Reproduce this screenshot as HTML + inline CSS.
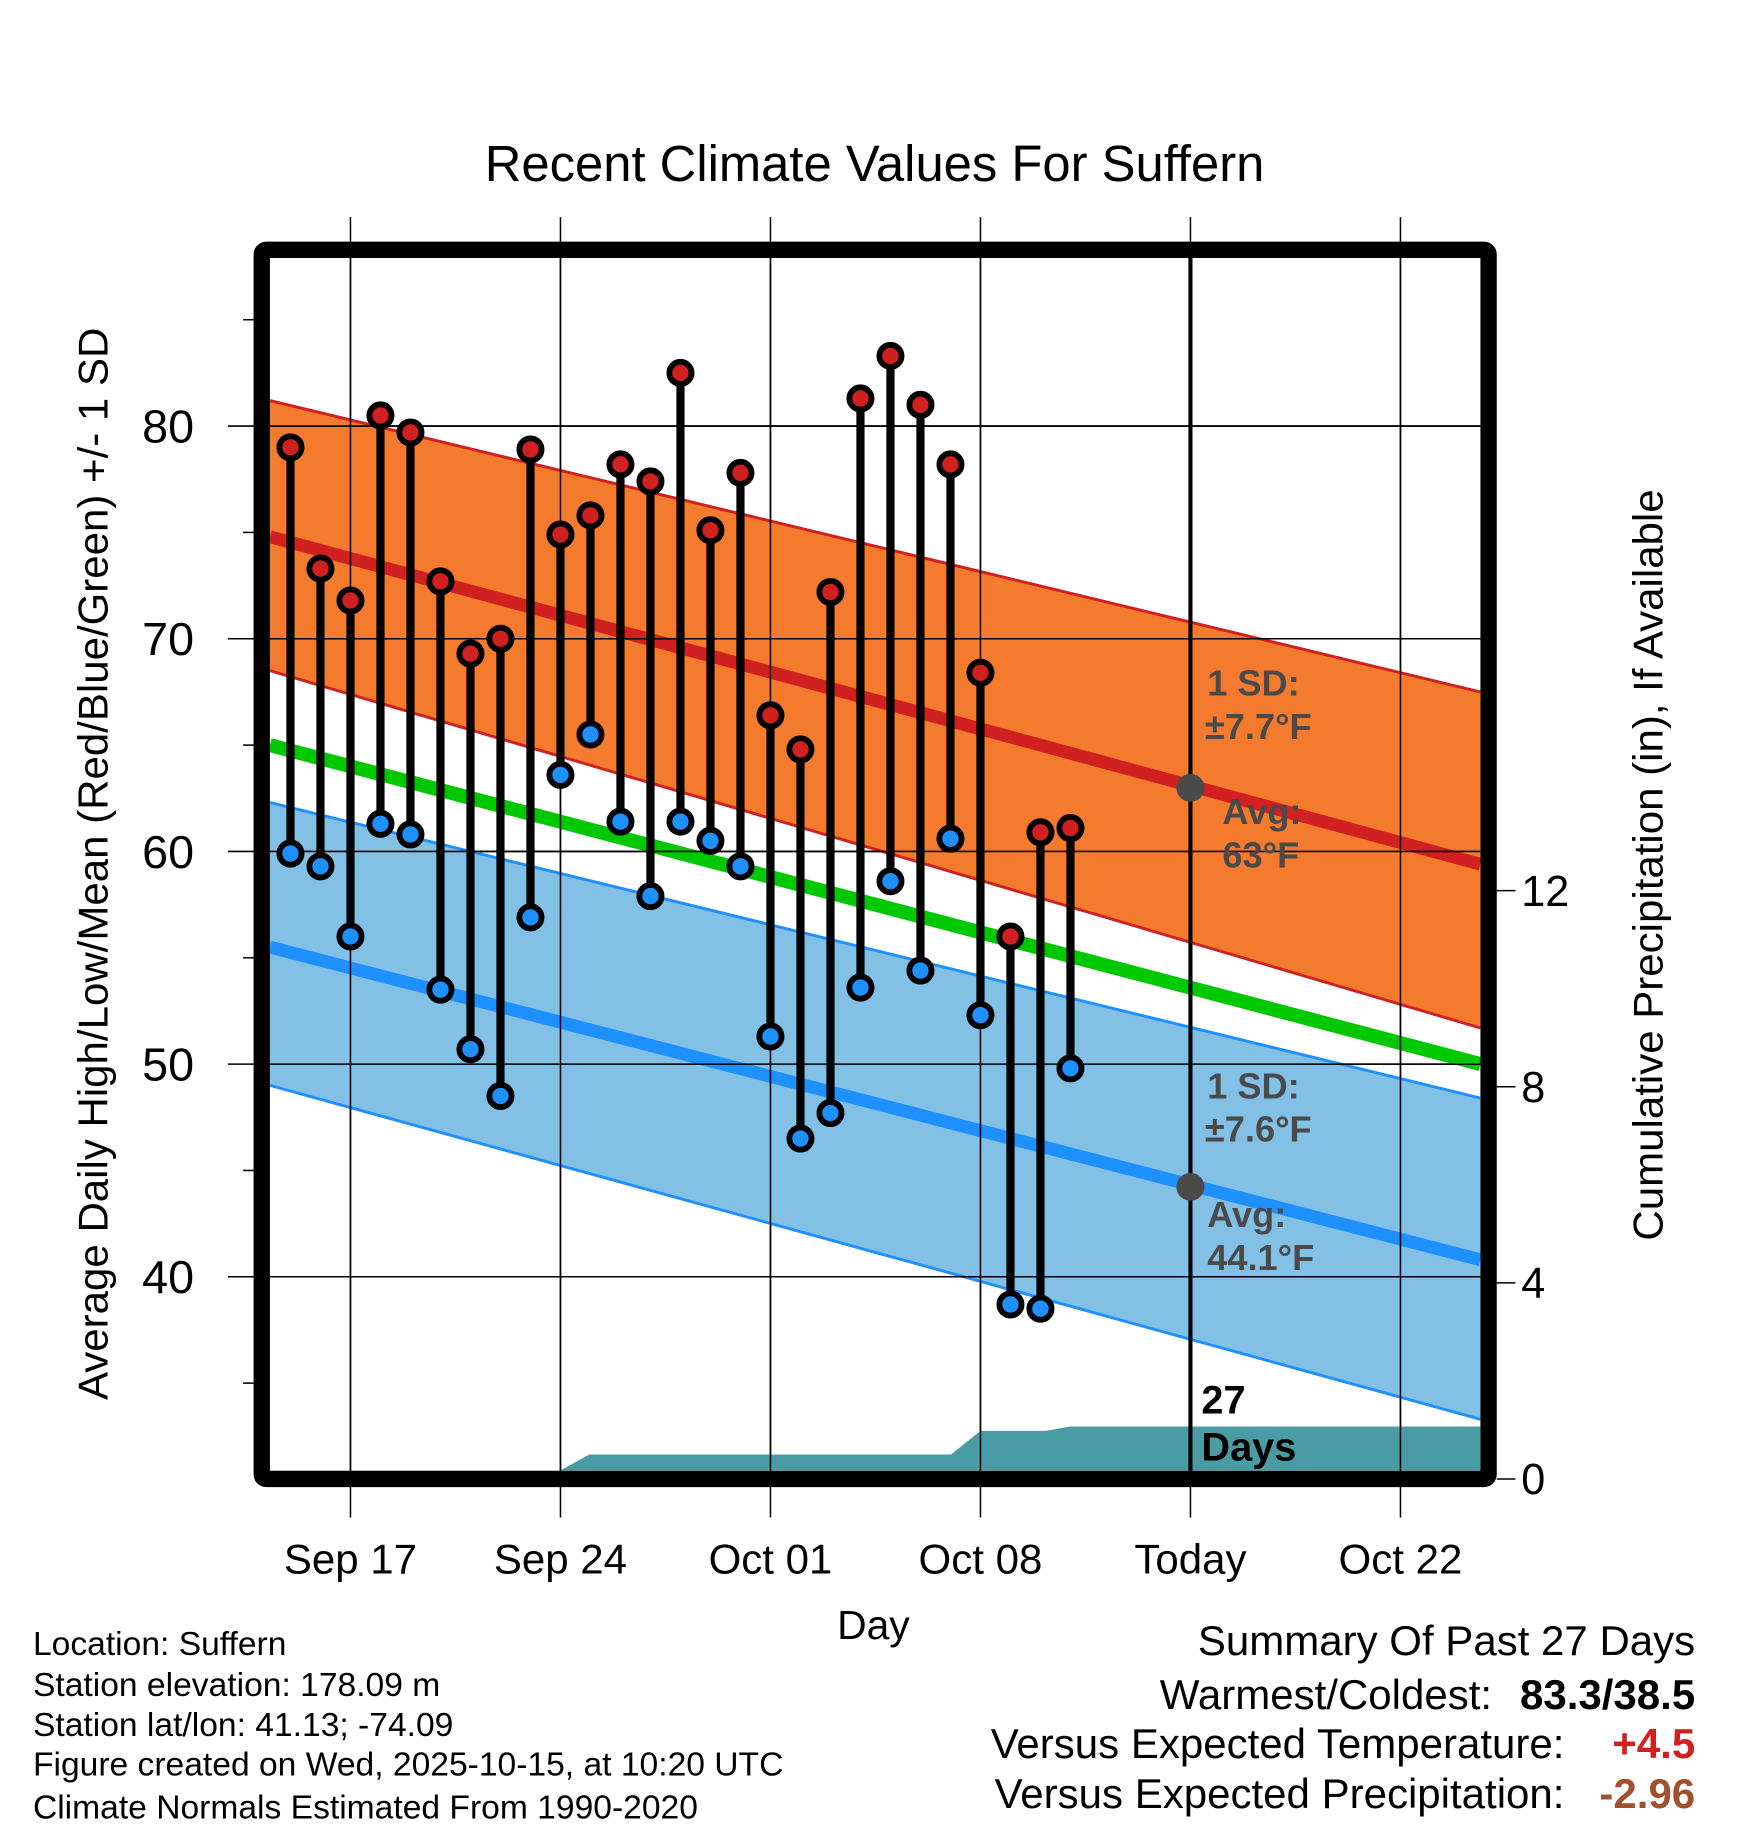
<!DOCTYPE html>
<html><head><meta charset="utf-8"><style>
html,body{margin:0;padding:0;background:#fff}
svg{display:block;font-family:"Liberation Sans",Arial,sans-serif}
</style></head><body>
<svg id="chart" width="1748" height="1828" viewBox="0 0 1497 1566" xmlns="http://www.w3.org/2000/svg">
<rect width="1497" height="1566" fill="#fff"/>
<g id="plot"></g>
<text x="749" y="155" font-size="43.5" text-anchor="middle">Recent Climate Values For Suffern</text>
<text transform="translate(92,740) rotate(-90)" font-size="36" text-anchor="middle">Average Daily High/Low/Mean (Red/Blue/Green) +/- 1 SD</text>
<text transform="translate(1424,741) rotate(-90)" font-size="36" text-anchor="middle">Cumulative Precipitation (in), If Available</text>
<text x="748" y="1404" font-size="35" text-anchor="middle">Day</text>
<g font-size="28.8">
<text x="28" y="1418">Location: Suffern</text>
<text x="28" y="1453">Station elevation: 178.09 m</text>
<text x="28" y="1487">Station lat/lon: 41.13; -74.09</text>
<text x="28" y="1521">Figure created on Wed, 2025-10-15, at 10:20 UTC</text>
<text x="28" y="1558">Climate Normals Estimated From 1990-2020</text>
</g>
<g font-size="36">
<text x="1452" y="1418" text-anchor="end">Summary Of Past 27 Days</text>
<text x="1278" y="1464" text-anchor="end">Warmest/Coldest:</text>
<text x="1452" y="1464" text-anchor="end" font-weight="bold">83.3/38.5</text>
<text x="1340" y="1506" text-anchor="end">Versus Expected Temperature:</text>
<text x="1452" y="1506" text-anchor="end" font-weight="bold" fill="#d02020">+4.5</text>
<text x="1340" y="1549" text-anchor="end">Versus Expected Precipitation:</text>
<text x="1452" y="1549" text-anchor="end" font-weight="bold" fill="#a0522d">-2.96</text>
</g>
</svg>
<script>
const highs=[79.0,73.3,71.8,80.5,79.7,72.7,69.3,70.0,78.9,74.9,75.8,78.2,77.4,82.5,75.1,77.8,66.4,64.8,72.2,81.3,83.3,81.0,78.2,68.4,56.0,60.9,61.1];
const lows=[59.9,59.3,56.0,61.3,60.8,53.5,50.7,48.5,56.9,63.6,65.5,61.4,57.9,61.4,60.5,59.3,51.3,46.5,47.7,53.6,58.6,54.4,60.6,52.3,38.7,38.5,49.8];
const dayOffsets=[-2,-1,0,1,2,3,4,5,6,7,8,9,10,11,12,13,14,15,16,17,18,19,20,21,22,23,24];
const xTickLabels=["Sep 17","Sep 24","Oct 01","Oct 08","Today","Oct 22"];
const xTickDays=[0,7,14,21,28,35];
const yTicks=[40,50,60,70,80];
const y2Ticks=[0,4,8,12];
const precipDays=[-2.9,6.49,7.96,20.02,21.0,23.18,23.98];
const precipVals=[0,0,0.5,0.5,0.98,0.98,1.07];
const highUpper=[81.2,67.5], highAvg=[74.8,59.4], highLower=[68.5,51.7];
const meanAvg=[65.0,50.0];
const lowUpper=[62.3,48.4], lowAvg=[55.5,40.8], lowLower=[49.0,33.3];
const dayStart=-2.9, dayEnd=37.4;

const X0=231,X1=1268,Y0=221,Y1=1260;
const xS=d=>300+d*25.7;
const yS=t=>365+(80-t)*18.22;
const y2S=p=>1267-p*42;
const ns="http://www.w3.org/2000/svg";
const plot=document.getElementById('plot');
function mk(tag,attrs,parent){const e=document.createElementNS(ns,tag);for(const k in attrs)e.setAttribute(k,attrs[k]);(parent||plot).appendChild(e);return e;}
const lin=(a,d)=>a[0]+(a[1]-a[0])*(d-dayStart)/(dayEnd-dayStart);

for(let i=0;i<xTickDays.length;i++){const x=xS(xTickDays[i]);
 const g=mk('line',{x1:x,x2:x,y1:186,y2:1300,stroke:'#000','stroke-width':1.3});
 
 
 const t=mk('text',{x:x,y:1348,'font-size':36,'text-anchor':'middle'});t.textContent=xTickLabels[i];
 
 
}
for(const v of yTicks){const y=yS(v);
 const g=mk('line',{x1:195,x2:X1,y1:y,y2:y,stroke:'#000','stroke-width':1.3});
 
 
 const t=mk('text',{x:166,y:y+14,'font-size':40,'text-anchor':'end'});t.textContent=v;
 
 
}
for(let v=35;v<=85;v+=10){const y=yS(v);mk('line',{x1:208,x2:217,y1:y,y2:y,stroke:'#000','stroke-width':1.3});}
for(const p of y2Ticks){const y=y2S(p);
 mk('line',{x1:1282,x2:1298,y1:y,y2:y,stroke:'#000','stroke-width':1.3});
 const t=mk('text',{x:1303,y:y+13,'font-size':37});t.textContent=p;
 
 
}
const defs=mk('defs',{});const cp=mk('clipPath',{id:'pc'},defs);mk('rect',{x:X0,y:Y0,width:X1-X0,height:Y1-Y0},cp);
const clip=mk('g',{'clip-path':'url(#pc)'});
function band(up,lo,fill,stroke,name){
 const a=[[X0,yS(lin(up,X0d))],[X1,yS(lin(up,X1d))],[X1,yS(lin(lo,X1d))],[X0,yS(lin(lo,X0d))]];
 const p=mk('polygon',{points:a.map(q=>q.join(',')).join(' '),fill:fill},clip);
 
 
 mk('line',{x1:a[0][0],y1:a[0][1],x2:a[1][0],y2:a[1][1],stroke:stroke,'stroke-width':2.5},clip);
 mk('line',{x1:a[3][0],y1:a[3][1],x2:a[2][0],y2:a[2][1],stroke:stroke,'stroke-width':2.5},clip);
}
const X0d=dayStart, X1d=dayEnd;
band(highUpper,highLower,'#f47a2e','#d02020','high-sd-band');
band(lowUpper,lowLower,'#82c0e6','#1e90ff','low-sd-band');
function nl(a,c,w,name){const l=mk('line',{x1:X0,y1:yS(a[0]),x2:X1,y2:yS(a[1]),stroke:c,'stroke-width':w},clip);
 
 }
nl(highAvg,'#d02020',11,'normal-high-line');
nl(meanAvg,'#00c800',12,'normal-mean-line');
nl(lowAvg,'#1e90ff',11,'normal-low-line');
let pts=precipDays.map((d,i)=>[xS(d),y2S(precipVals[i])]);
pts=pts.concat([[X1,y2S(precipVals[precipVals.length-1])],[X1,Y1],[X0,Y1]]);
const pa=mk('polygon',{points:pts.map(q=>q.join(',')).join(' '),fill:'#4a9ca4'},clip);


for(const d of xTickDays){const x=xS(d);mk('line',{x1:x,x2:x,y1:Y0,y2:Y1,stroke:'#000','stroke-width':1.3},clip);}
for(const v of yTicks){const y=yS(v);mk('line',{x1:X0,x2:X1,y1:y,y2:y,stroke:'#000','stroke-width':1.3},clip);}
const tx=xS(28);
const tl=mk('line',{x1:tx,x2:tx,y1:Y0,y2:Y1,stroke:'#000','stroke-width':3.5},clip);


mk('circle',{cx:tx,cy:yS(lin(highAvg,28)),r:12,fill:'#4a4a4a'});
mk('circle',{cx:tx,cy:yS(lin(lowAvg,28)),r:12,fill:'#4a4a4a'});
function lab(x,y,s,name){const t=mk('text',{x:x,y:y,'font-size':31,'font-weight':'bold',fill:'#4a4a4a'});t.textContent=s;
 
 }
lab(1034,596,'1 SD:','high-sd-label');lab(1032,633,'±7.7°F','high-sd-value');
lab(1047,706,'Avg:','high-avg-label');lab(1047,743,'63°F','high-avg-value');
lab(1034,941,'1 SD:','low-sd-label');lab(1032,978,'±7.6°F','low-sd-value');
lab(1034,1051,'Avg:','low-avg-label');lab(1034,1088,'44.1°F','low-avg-value');
const t27=mk('text',{x:1029,y:1211,'font-size':34,'font-weight':'bold'});t27.textContent='27';


const tdy=mk('text',{x:1029,y:1251,'font-size':34,'font-weight':'bold'});tdy.textContent='Days';


for(let i=0;i<highs.length;i++){const x=xS(dayOffsets[i]);
 const s=mk('line',{x1:x,x2:x,y1:yS(highs[i]),y2:yS(lows[i]),stroke:'#000','stroke-width':7});
 
 
 const h=mk('circle',{cx:x,cy:yS(highs[i]),r:9.5,fill:'#d02020',stroke:'#000','stroke-width':5});
 
 
 const l=mk('circle',{cx:x,cy:yS(lows[i]),r:9.5,fill:'#1e90ff',stroke:'#000','stroke-width':5});
 
 
}
const fr=mk('rect',{x:224,y:214,width:1051,height:1053,fill:'none',stroke:'#000','stroke-width':14,rx:4});


</script>
</body></html>
